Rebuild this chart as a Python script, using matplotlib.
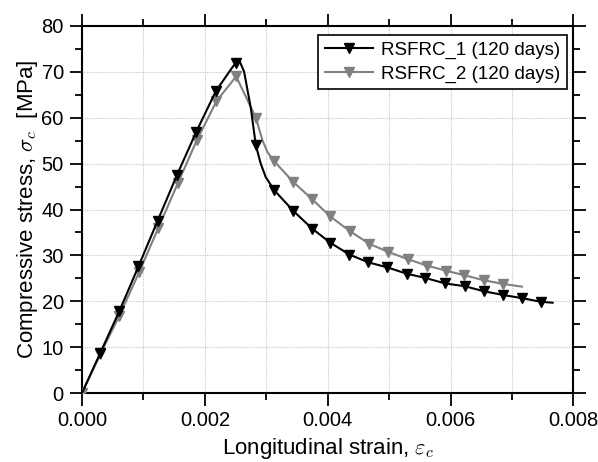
import matplotlib
matplotlib.use("Agg")
import matplotlib.pyplot as plt
from matplotlib.ticker import MultipleLocator, FormatStrFormatter
from matplotlib.lines import Line2D

plt.rcParams['font.family'] = ['Liberation Sans', 'DejaVu Sans']
plt.rcParams['mathtext.fontset'] = 'cm'

# RSFRC_1 (120 days) - line points and marker points
s1_line_x = [0.0, 0.00030, 0.00061, 0.00092, 0.00123, 0.00155, 0.00186, 0.00218, 0.00245, 0.00251,
             0.00257, 0.00264, 0.00275, 0.00283, 0.00291, 0.00299, 0.00313, 0.00344, 0.00375,
             0.00404, 0.00435, 0.00466, 0.00497, 0.00529, 0.00559, 0.00591, 0.00623, 0.00654,
             0.00685, 0.00716, 0.00747, 0.00766]
s1_line_y = [0.0, 8.8, 17.9, 27.6, 37.5, 47.6, 56.9, 65.8, 71.0, 72.0,
             72.2, 70.0, 62.0, 54.0, 50.0, 47.1, 44.2, 39.7, 35.8,
             32.8, 30.2, 28.5, 27.4, 26.0, 25.1, 23.9, 23.3, 22.2,
             21.4, 20.7, 19.9, 19.7]
s1_mark_x = [0.00030, 0.00061, 0.00092, 0.00123, 0.00155, 0.00186, 0.00218, 0.00251, 0.00283,
             0.00313, 0.00344, 0.00375, 0.00404, 0.00435, 0.00466, 0.00497, 0.00529, 0.00559,
             0.00591, 0.00623, 0.00654, 0.00685, 0.00716, 0.00747]
s1_mark_y = [8.8, 17.9, 27.6, 37.5, 47.6, 56.9, 65.8, 72.0, 54.0,
             44.2, 39.7, 35.8, 32.8, 30.2, 28.5, 27.4, 26.0, 25.1,
             23.9, 23.3, 22.2, 21.4, 20.7, 19.9]

# RSFRC_2 (120 days)
s2_line_x = [0.0, 0.00030, 0.00061, 0.00093, 0.00124, 0.00156, 0.00187, 0.00219, 0.00251,
             0.00283, 0.00294, 0.00302, 0.00313, 0.00344, 0.00375, 0.00404, 0.00436, 0.00468,
             0.00498, 0.00530, 0.00561, 0.00592, 0.00622, 0.00654, 0.00685, 0.00716]
s2_line_y = [0.0, 8.5, 16.9, 26.3, 35.9, 45.7, 55.1, 63.6, 69.0,
             60.0, 55.0, 52.5, 50.5, 46.0, 42.2, 38.5, 35.3, 32.5,
             30.8, 29.2, 27.8, 26.7, 25.7, 24.6, 23.8, 23.2]
s2_mark_x = [0.0, 0.00030, 0.00061, 0.00093, 0.00124, 0.00156, 0.00187, 0.00219, 0.00251,
             0.00283, 0.00313, 0.00344, 0.00375, 0.00404, 0.00436, 0.00468, 0.00498, 0.00530,
             0.00561, 0.00592, 0.00622, 0.00654, 0.00685]
s2_mark_y = [0.0, 8.5, 16.9, 26.3, 35.9, 45.7, 55.1, 63.6, 69.0,
             60.0, 50.5, 46.0, 42.2, 38.5, 35.3, 32.5, 30.8, 29.2,
             27.8, 26.7, 25.7, 24.6, 23.8]

labels = ['RSFRC_1 (120 days)', 'RSFRC_2 (120 days)']
colors = ['black', '#808080']

fig = plt.figure(figsize=(5.98, 4.62), dpi=100)
ax = fig.add_axes([0.137, 0.149, 0.822, 0.795])

ax.plot(s2_line_x, s2_line_y, color=colors[1], lw=1.5, zorder=3)
ax.plot(s2_mark_x, s2_mark_y, ls='none', marker='v', ms=7, color=colors[1], zorder=4)
ax.plot(s1_line_x, s1_line_y, color=colors[0], lw=1.5, zorder=5)
ax.plot(s1_mark_x, s1_mark_y, ls='none', marker='v', ms=7, color=colors[0], zorder=6)

ax.set_xlim(0, 0.008)
ax.set_ylim(0, 80)
ax.xaxis.set_major_locator(MultipleLocator(0.002))
ax.xaxis.set_minor_locator(MultipleLocator(0.001))
ax.xaxis.set_major_formatter(FormatStrFormatter('%.3f'))
ax.yaxis.set_major_locator(MultipleLocator(10))
ax.yaxis.set_minor_locator(MultipleLocator(5))

ax.grid(True, which='major', color='#c8c8c8', ls=(0, (1, 1)), lw=0.8)
ax.grid(True, which='minor', axis='x', color='#c8c8c8', ls=(0, (1, 1)), lw=0.8)

ax.tick_params(which='both', direction='out', top=True, right=True, labelsize=14.5, width=1.3)
ax.tick_params(which='major', length=9, pad=4)
ax.tick_params(which='minor', length=5)
for sp in ax.spines.values():
    sp.set_linewidth(1.5)

ax.set_xlabel(r'Longitudinal strain, $\varepsilon_c$', fontsize=16, labelpad=4)
ax.set_ylabel(r'Compressive stress, $\sigma_c$  [MPa]', fontsize=16, labelpad=1)

handles = [Line2D([], [], color=c, lw=1.5, marker='v', ms=7) for c in colors]
leg = ax.legend(handles, labels, loc='upper right', bbox_to_anchor=(0.986, 0.975),
                frameon=True, fancybox=False, edgecolor='black',
                framealpha=1, borderpad=0.35, handlelength=2.6, handletextpad=0.4,
                labelspacing=0.35, borderaxespad=0,
                prop={'family': ['Liberation Sans Narrow', 'Liberation Sans'], 'size': 13.5})
leg.get_frame().set_linewidth(1.2)

fig.savefig('out.png', dpi=100)
